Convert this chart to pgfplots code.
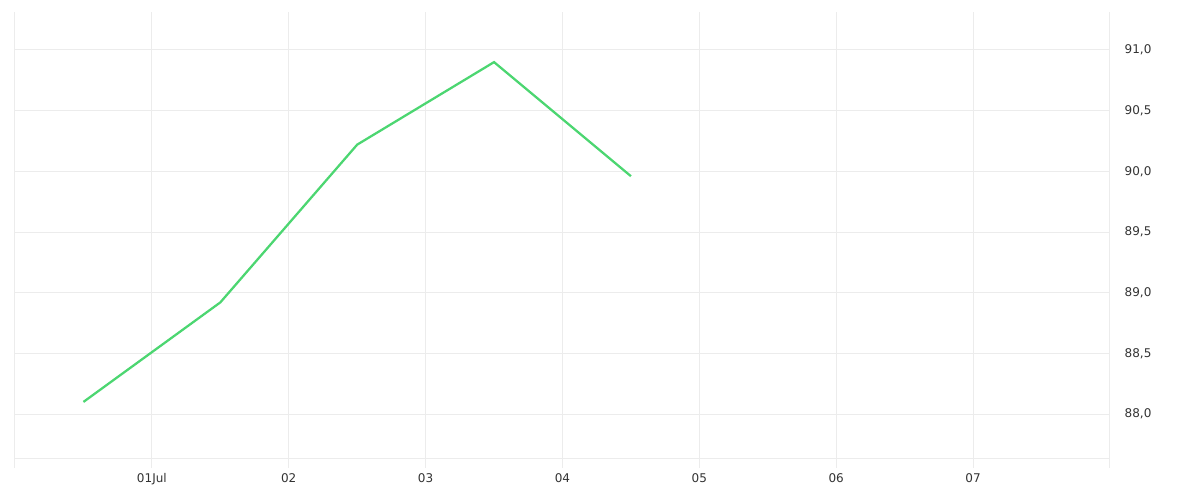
\documentclass[border=0pt]{standalone}
\usepackage{pgfplots}
\pgfplotsset{compat=1.18}
\usepackage{fontspec}
\setmainfont{DejaVu Sans}
\definecolor{gridgray}{HTML}{ECECEC}
\definecolor{linegreen}{HTML}{4CD671}
\definecolor{ticktext}{HTML}{333333}
\begin{document}
% 1px = 0.75pt, picture 1200 x 500 px
\begin{tikzpicture}[x=0.75pt,y=0.75pt]
\useasboundingbox (-15,-42) rectangle (1185,458);
\begin{axis}[
    at={(0,0)}, anchor=origin,
    scale only axis,
    width=821.25pt, height=334.5pt,
    xmin=0, xmax=8,
    ymin=87.638, ymax=91.313,
    axis line style={draw=none},
    xtick={1,2,3,4,5,6,7},
    xticklabels={01Jul,02,03,04,05,06,07},
    extra x ticks={0,8},
    extra x tick labels={},
    extra y ticks={87.638},
    extra y tick labels={},
    ytick={88,88.5,89,89.5,90,90.5,91},
    yticklabels={{88,0},{88,5},{89,0},{89,5},{90,0},{90,5},{91,0}},
    ytick pos=right,
    yticklabel pos=right,
    y tick style={draw=none},
    x tick style={draw=gridgray, line width=0.75pt},
    tick align=outside,
    xtick pos=bottom,
    major tick length=7.5pt,
    grid=major,
    major grid style={draw=gridgray, line width=0.75pt},
    every extra x tick/.style={grid=major, major grid style={draw=gridgray, line width=0.75pt}},
    every extra y tick/.style={grid=major, major grid style={draw=gridgray, line width=0.75pt}},
    tick label style={font=\fontsize{9}{11}\selectfont, text=ticktext},
    xticklabel style={text height=7pt, text depth=2pt, yshift=0pt},
    yticklabel style={xshift=0pt},
    clip=false,
]
\addplot[color=linegreen, line width=1.7pt, line join=miter] coordinates {
    (0.5,88.10) (1.5,88.92) (2.5,90.22) (3.5,90.90) (4.5,89.96)
};
\end{axis}
\end{tikzpicture}
\end{document}
